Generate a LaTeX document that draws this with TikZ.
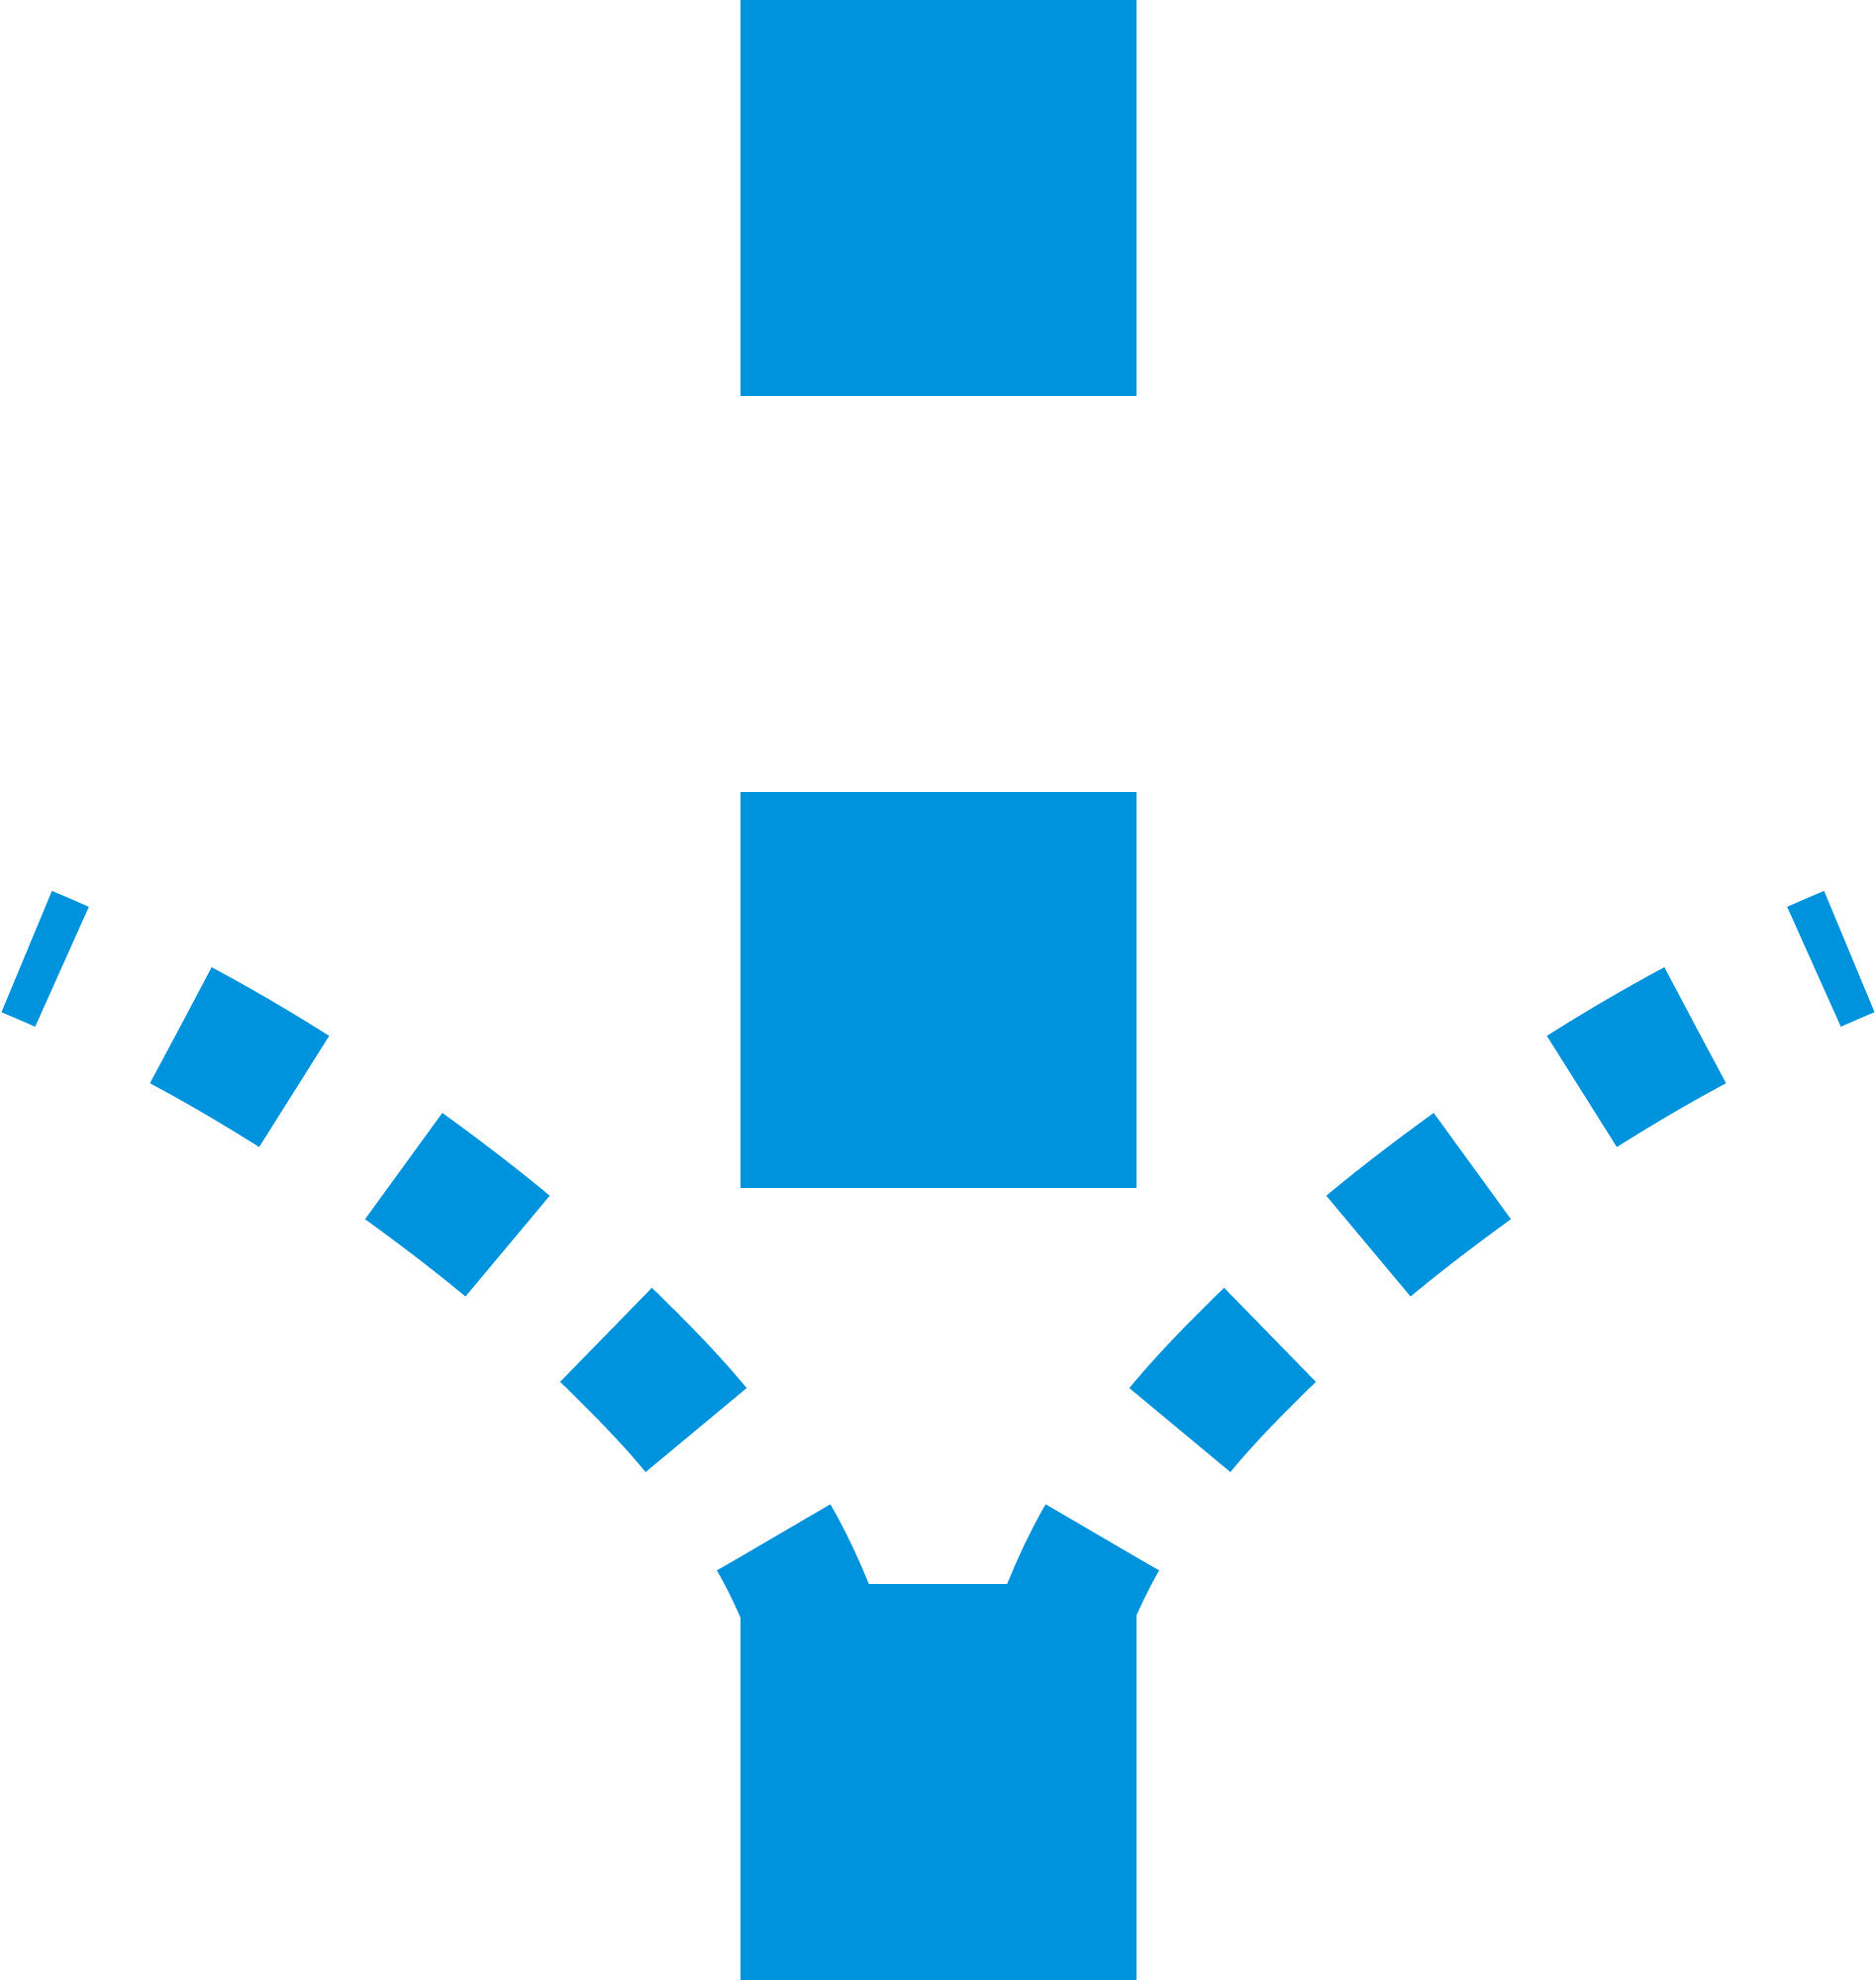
\documentclass[tikz,border=0pt]{standalone}
\definecolor{iconblue}{HTML}{0093DD}
\begin{document}
\begin{tikzpicture}[x=1pt,y=-1pt,
  block/.style={fill=iconblue, draw=none, minimum size=400pt, inner sep=0pt, outer sep=0pt},
  link/.style={draw=iconblue, line width=132.6pt, line cap=butt,
    dash pattern=on 132.4pt off 134pt, dash phase=93.66pt}]
\useasboundingbox (0,0) rectangle (1895,2000);
% blocks
\node[block] (top) at (947.5,200) {};
\node[block] (mid) at (947.5,1000) {};
\node[block] (bot) at (947.5,1800) {};
% left connector
\coordinate (l0) at (27,961.2);
\coordinate (l2) at (182.8,1035.7);
\coordinate (l3) at (297.2,1102.5);
\coordinate (l4) at (407.8,1177.8);
\coordinate (l5) at (512.5,1258.5);
\coordinate (l6) at (612.2,1348.3);
\coordinate (l7) at (703.2,1444.5);
\coordinate (l8) at (781.7,1553.3);
\coordinate (le) at (832.5,1667.5);
% right connector (mirror)
\coordinate (r0) at (1868,961.2);
\coordinate (r2) at (1712.2,1035.7);
\coordinate (r3) at (1597.8,1102.5);
\coordinate (r4) at (1487.2,1177.8);
\coordinate (r5) at (1382.5,1258.5);
\coordinate (r6) at (1282.8,1348.3);
\coordinate (r7) at (1191.8,1444.5);
\coordinate (r8) at (1113.3,1553.3);
\coordinate (re) at (1062.5,1667.5);
\draw[link] (l0) .. controls (80.2,983.2) and (131.9,1008.7) .. (l2)
  .. controls (221.8,1056.5) and (259.8,1078.9) .. (l3)
  .. controls (334.9,1126.3) and (371.7,1151.6) .. (l4)
  .. controls (443.5,1203.7) and (478.6,1230.3) .. (l5)
  .. controls (546.8,1287.1) and (580.2,1317.1) .. (l6)
  .. controls (643.8,1379.1) and (675.1,1410.5) .. (l7)
  .. controls (731.7,1479.0) and (759.3,1514.6) .. (l8)
  .. controls (802.6,1589.4) and (818.2,1628.3) .. (le);
\draw[link] (r0) .. controls (1814.8,983.2) and (1763.1,1008.7) .. (r2)
  .. controls (1673.2,1056.5) and (1635.2,1078.9) .. (r3)
  .. controls (1560.1,1126.3) and (1523.3,1151.6) .. (r4)
  .. controls (1451.5,1203.7) and (1416.4,1230.3) .. (r5)
  .. controls (1348.2,1287.1) and (1314.8,1317.1) .. (r6)
  .. controls (1251.2,1379.1) and (1219.9,1410.5) .. (r7)
  .. controls (1163.3,1479.0) and (1135.7,1514.6) .. (r8)
  .. controls (1092.4,1589.4) and (1076.8,1628.3) .. (re);
\end{tikzpicture}
\end{document}
